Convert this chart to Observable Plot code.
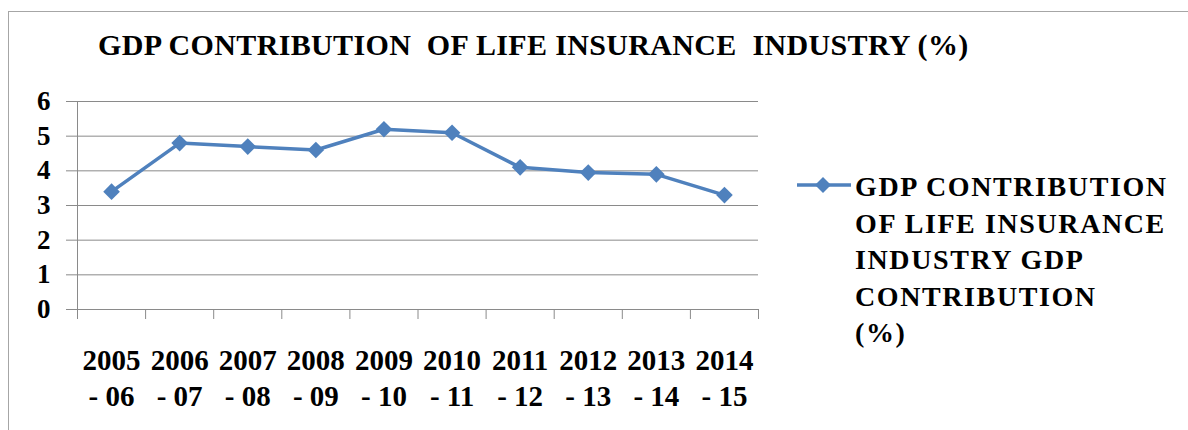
<!DOCTYPE html>
<html>
<head>
<meta charset="utf-8">
<script src="https://cdn.jsdelivr.net/npm/d3@7"></script>
<script src="https://cdn.jsdelivr.net/npm/@observablehq/plot@0.6"></script>
<style>
  html, body { margin: 0; padding: 0; background: #fff; }
  #wrap { position: relative; width: 1188px; height: 430px; overflow: hidden; font-family: 'Liberation Serif', 'Times New Roman', Times, serif; font-weight: bold; color: #000; }
  #border { position: absolute; left: 8px; top: 11px; width: 1300px; height: 500px; border-left: 1px solid #a6a6a6; border-top: 1px solid #a6a6a6; }
  #title { position: absolute; left: 98px; top: 30px; font-family: 'Liberation Serif', 'Times New Roman', Times, serif; font-size: 30px; line-height: 30px; white-space: pre; letter-spacing: 0.35px; }
  #legend { position: absolute; left: 797px; top: 169px; }
  #legend svg { position: absolute; left: 0; top: 7px; }
  #legend .txt { position: absolute; left: 58px; top: 0; font-family: 'Liberation Serif', 'Times New Roman', Times, serif; font-size: 28px; line-height: 36.6px; white-space: nowrap; letter-spacing: 1.6px; }
  #chart { position: absolute; left: 0; top: 0; }
</style>
</head>
<body>
<div id="wrap">
  <div id="border"></div>
  <div id="chart"></div>
  <div id="title"></div>
  <div id="legend"></div>
</div>
<script>
const title = "GDP CONTRIBUTION  OF LIFE INSURANCE  INDUSTRY (%)";
const seriesName = ["GDP CONTRIBUTION", "OF LIFE INSURANCE", "INDUSTRY GDP", "CONTRIBUTION", "(%)"];
const categories = ["2005 - 06", "2006 - 07", "2007 - 08", "2008 - 09", "2009 - 10", "2010 - 11", "2011 - 12", "2012 - 13", "2013 - 14", "2014 - 15"];
const values = [3.4, 4.8, 4.7, 4.6, 5.2, 5.1, 4.1, 3.95, 3.9, 3.3];
const yTicks = [0, 1, 2, 3, 4, 5, 6];

const lineColor = "#4F81BD";
const gridColor = "#8a8a8a";
const font = "'Liberation Serif', 'Times New Roman', Times, serif";

const data = categories.map((c, i) => ({cat: c, i, v: values[i]}));
const boundaries = d3.range(categories.length + 1);
const centers = categories.map((c, i) => i + 0.5);

const chart = Plot.plot({
  width: 1188,
  height: 430,
  marginLeft: 77,
  marginRight: 430,
  marginTop: 101,
  marginBottom: 121,
  style: {background: "transparent", fontFamily: font, fontWeight: "bold", color: "#000"},
  x: {type: "linear", domain: [0, categories.length]},
  y: {domain: [0, 6]},
  marks: [
    Plot.gridY(yTicks, {stroke: gridColor, strokeOpacity: 1, strokeWidth: 1}),
    Plot.axisY(yTicks, {tickSize: 11, tickPadding: 16, stroke: gridColor, strokeOpacity: 1, fontSize: 27, fontWeight: "bold", fill: "#000", label: null}),
    Plot.ruleX([0], {y1: 0, y2: 6, stroke: gridColor, strokeWidth: 1}),
    Plot.axisX(boundaries, {tickSize: 10, tickFormat: () => "", stroke: gridColor, strokeOpacity: 1, label: null}),
    Plot.axisX(centers, {tickSize: 0, tickPadding: 36, fontSize: 29, fontWeight: "bold", fill: "#000", lineHeight: 1.21, label: null,
      tickFormat: t => categories[Math.floor(t)].replace(" - ", "\n- ")}),
    Plot.line(data, {x: d => d.i + 0.5, y: "v", stroke: lineColor, strokeWidth: 3.5}),
    Plot.dot(data, {x: d => d.i + 0.5, y: "v", symbol: "diamond2", r: 7.5, fill: lineColor, stroke: "none"})
  ]
});
document.getElementById("chart").appendChild(chart);

document.getElementById("title").textContent = title;

const legend = document.getElementById("legend");
legend.innerHTML = `<svg width="56" height="20" viewBox="0 0 56 20">
  <line x1="0" y1="9" x2="54" y2="9" stroke="${lineColor}" stroke-width="3.5"/>
  <path d="M26,1 L34,9 L26,17 L18,9 Z" fill="${lineColor}"/>
</svg><div class="txt">${seriesName.join("<br>")}</div>`;

const tEl = document.getElementById("title");
void getComputedStyle(tEl).fontFamily;
void tEl.getBoundingClientRect().width;
</script>
</body>
</html>
